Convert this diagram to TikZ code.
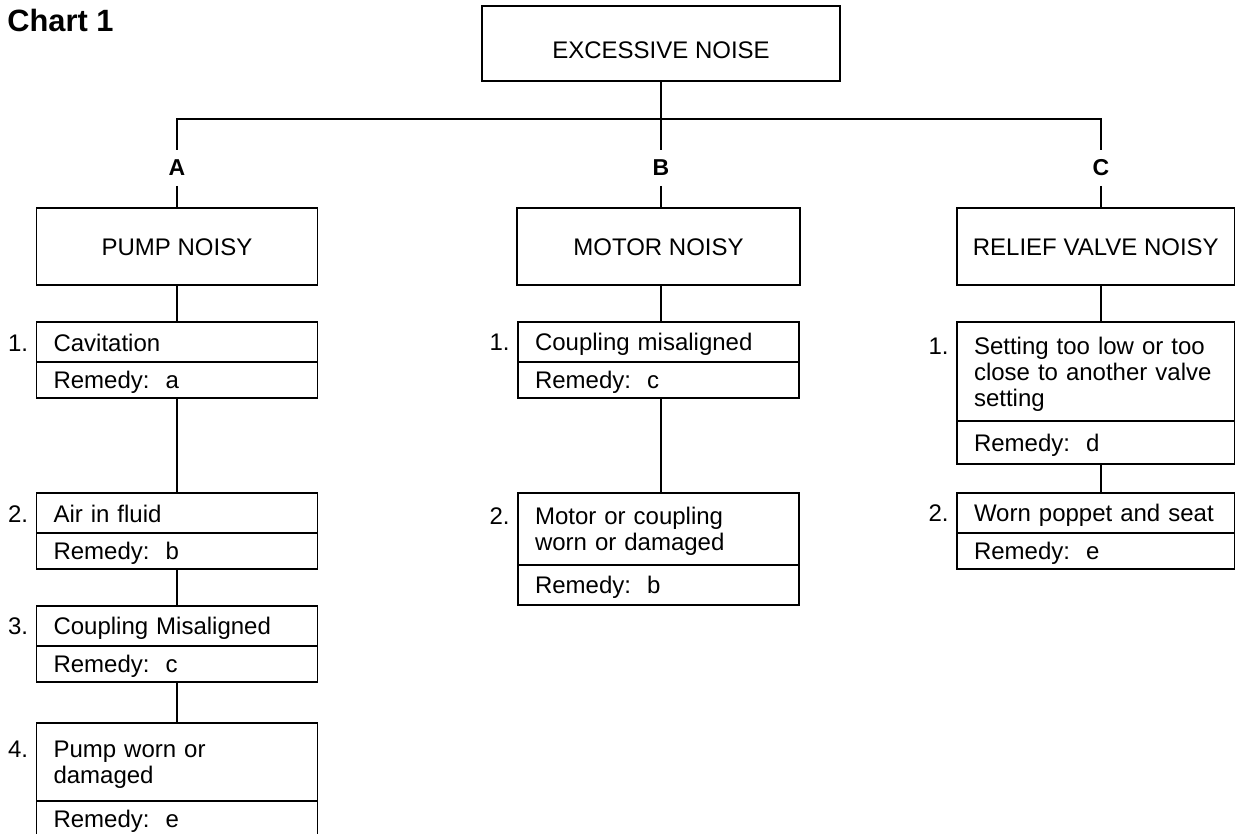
\documentclass[tikz,border=0pt]{standalone}
\usepackage{fontspec}
\setmainfont{Liberation Sans}
\usetikzlibrary{positioning}
\newcommand\cstrut{\rule[-1.75pt]{0pt}{13pt}}
\newcommand\boxfont{\fontsize{12}{13}\selectfont\lineskiplimit=-5pt\relax}

\begin{document}
\begin{tikzpicture}[x=0.5pt, y=-0.5pt, node distance=0pt,
    box/.style = {draw, line width=0.6pt, inner sep=0pt, outer sep=0pt, font=\boxfont},
    head/.style = {box, minimum width=140.5pt, minimum height=38.5pt, align=center, execute at begin node=\cstrut},
    cause/.style = {box, text width=123.5pt, inner xsep=8.5pt, minimum height=20pt, align=left,
        execute at begin node=\cstrut, execute at end node=\cstrut},
    remedy/.style = {cause, minimum height=18pt},
    num/.style = {anchor=base east, inner sep=0pt, font=\boxfont},
    letter/.style = {inner sep=0pt, outer sep=0pt, minimum height=18pt, font=\fontsize{11.5}{13}\selectfont\bfseries},
    link/.style = {line width=1.2pt},
    thinlink/.style = {line width=0.6pt}]
    \useasboundingbox (0,0) rectangle (1235,834);

    \node[anchor=base west, inner sep=0pt, font=\fontsize{15.4}{18}\selectfont\bfseries] (title) at (7,32) {Chart 1};

    \node[head, minimum width=179pt, minimum height=37.5pt, anchor=north west,
        execute at begin node=\rule{0pt}{16.5pt}] (top) at (482,6) {EXCESSIVE NOISE};
    \coordinate (bus) at (661,119);

    \node[letter] (A) at (177,168) {A};
    \node[letter] (B) at (661,168) {B};
    \node[letter] (C) at (1101,168) {C};

    \node[head, below=11pt of A] (pump) {PUMP NOISY};
    \node[head, minimum width=141.5pt, anchor=north west] (motor) at (517,208) {MOTOR NOISY};
    \node[head, minimum width=138.75pt, anchor=north west] (relief) at (957,208) {RELIEF VALVE NOISY};

    % pump
    \node[cause, below=18.5pt of pump] (a1) {Cavitation};
    \node[remedy, below=of a1] (a1r) {Remedy:~~a};
    \node[cause, below=47.5pt of a1r] (a2) {Air in fluid};
    \node[remedy, below=of a2] (a2r) {Remedy:~~b};
    \node[cause, below=18.5pt of a2r] (a3) {Coupling Misaligned};
    \node[remedy, below=of a3] (a3r) {Remedy:~~c};
    \node[cause, below=20.5pt of a3r, minimum height=39pt] (a4) {Pump worn or\\damaged};
    \node[remedy, below=of a4] (a4r) {Remedy:~~e};

    % motor
    \node[cause, below=18.5pt of motor] (b1) {Coupling misaligned};
    \node[remedy, below=of b1] (b1r) {Remedy:~~c};
    \node[cause, below=47.5pt of b1r, minimum height=36pt] (b2) {Motor or coupling\\worn or damaged};
    \node[remedy, below=of b2, minimum height=20pt] (b2r) {Remedy:~~b};

    % relief valve
    \node[cause, text width=121.75pt, below=18.5pt of relief, minimum height=49.5pt] (c1) {Setting too low or too\\close to another valve\\setting};
    \node[remedy, text width=121.75pt, below=of c1, minimum height=21.5pt] (c1r) {Remedy:~~d};
    \node[cause, text width=121.75pt, below=14.5pt of c1r] (c2) {Worn poppet and seat};
    \node[remedy, text width=121.75pt, below=of c2] (c2r) {Remedy:~~e};

    \node[num] (a1n) at ([xshift=-4pt]a1.base west) {1.};
    \node[num] (a2n) at ([xshift=-4pt]a2.base west) {2.};
    \node[num] (a3n) at ([xshift=-4pt]a3.base west) {3.};
    \node[num] (a4n) at ([xshift=-4pt]a4.base west) {4.};
    \node[num] (b1n) at ([xshift=-4pt]b1.base west) {1.};
    \node[num] (b2n) at ([xshift=-4pt]b2.base west) {2.};
    \node[num] (c1n) at ([xshift=-4pt]c1.base west) {1.};
    \node[num] (c2n) at ([xshift=-4pt]c2.base west) {2.};

    \draw[thinlink] (top.south) -- (bus) -- (B.north);
    \draw[link] (A.north) |- (bus) -| (C.north);

    \draw[link] (A.south) -- (pump.north);
    \draw[link] (pump.south) -- (a1.north);
    \draw[link] (a1r.south) -- (a2.north);
    \draw[link] (a2r.south) -- (a3.north);
    \draw[link] (a3r.south) -- (a4.north);

    \draw[thinlink] (B.south) -- (motor.north -| B.south);
    \draw[thinlink] (motor.south -| B.south) -- (b1.north -| B.south);
    \draw[thinlink] (b1r.south -| B.south) -- (b2.north -| B.south);

    \draw[link] (C.south) -- (relief.north -| C.south);
    \draw[link] (relief.south -| C.south) -- (c1.north -| C.south);
    \draw[link] (c1r.south -| C.south) -- (c2.north -| C.south);
\end{tikzpicture}
\end{document}
